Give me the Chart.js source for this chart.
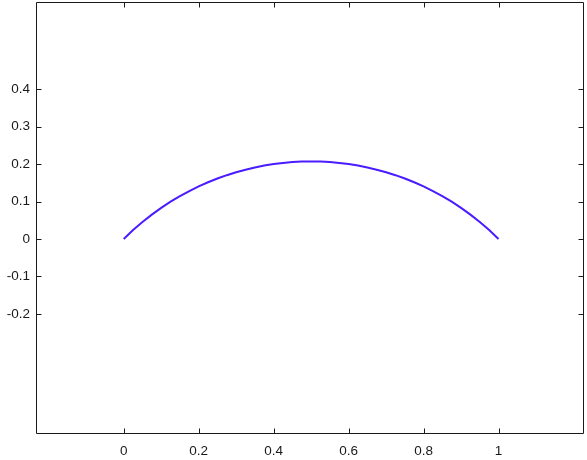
<!DOCTYPE html>
<html>
<head>
<meta charset="utf-8">
<script src="https://cdn.jsdelivr.net/npm/chart.js@4/dist/chart.umd.min.js"></script>
<style>
  html, body { margin: 0; padding: 0; background: #fff; }
  #wrap { width: 587px; height: 460px; position: relative; }
</style>
</head>
<body>
<div id="wrap"><canvas id="c"></canvas></div>
<script>
// Data
const xValues = [0, 0.025, 0.05, 0.075, 0.1, 0.125, 0.15, 0.175, 0.2, 0.225, 0.25, 0.275, 0.3, 0.325, 0.35, 0.375, 0.4, 0.425, 0.45, 0.475, 0.5,
                 0.525, 0.55, 0.575, 0.6, 0.625, 0.65, 0.675, 0.7, 0.725, 0.75, 0.775, 0.8, 0.825, 0.85, 0.875, 0.9, 0.925, 0.95, 0.975, 1];
const yValues = [0, 0.0238, 0.0454, 0.0651, 0.0831, 0.0995, 0.1144, 0.1280, 0.1403, 0.1514, 0.1614, 0.1704, 0.1782, 0.1851, 0.1910, 0.1960, 0.2000, 0.2031, 0.2053, 0.2067, 0.2071,
                 0.2067, 0.2053, 0.2031, 0.2000, 0.1960, 0.1910, 0.1851, 0.1782, 0.1704, 0.1614, 0.1514, 0.1403, 0.1280, 0.1144, 0.0995, 0.0831, 0.0651, 0.0454, 0.0238, 0];
const xTicks = [0, 0.2, 0.4, 0.6, 0.8, 1];
const yTicks = [-0.2, -0.1, 0, 0.1, 0.2, 0.3, 0.4];
const xRange = [-0.234, 1.228];
const yRange = [-0.521, 0.633];

const points = xValues.map((x, i) => ({ x: x, y: yValues[i] }));

const fmt = v => {
  const r = Math.round(v * 10) / 10;
  return String(r);
};

const boxPlugin = {
  id: 'boxTicks',
  afterDatasetsDraw(chart) {
    const { ctx, chartArea: a, scales } = chart;
    ctx.save();
    ctx.strokeStyle = '#1a1a1a';
    ctx.lineWidth = 1;
    const L = Math.round(a.left) + 0.5, R = Math.round(a.right) - 0.5;
    const T = Math.round(a.top) + 0.5, B = Math.round(a.bottom) - 0.5;
    ctx.beginPath();
    ctx.rect(L, T, R - L, B - T);
    const tl = 5;
    xTicks.forEach(v => {
      const px = Math.round(scales.x.getPixelForValue(v)) + 0.5;
      ctx.moveTo(px, B); ctx.lineTo(px, B - tl);
      ctx.moveTo(px, T); ctx.lineTo(px, T + tl);
    });
    yTicks.forEach(v => {
      const py = Math.round(scales.y.getPixelForValue(v)) + 0.5;
      ctx.moveTo(L, py); ctx.lineTo(L + tl, py);
      ctx.moveTo(R, py); ctx.lineTo(R - tl, py);
    });
    ctx.stroke();
    ctx.restore();
  }
};

new Chart(document.getElementById('c'), {
  type: 'scatter',
  data: {
    datasets: [{
      data: points,
      showLine: true,
      borderColor: '#4a1cff',
      borderWidth: 2,
      pointRadius: 0,
      tension: 0,
      fill: false
    }]
  },
  options: {
    responsive: true,
    maintainAspectRatio: false,
    animation: false,
    layout: { padding: { left: 0, right: 3, top: 2, bottom: 0 } },
    plugins: { legend: { display: false }, tooltip: { enabled: false } },
    scales: {
      x: {
        type: 'linear',
        min: xRange[0], max: xRange[1],
        afterBuildTicks: s => { s.ticks = xTicks.map(v => ({ value: v })); },
        afterFit: s => { s.height = 26; s.paddingLeft = 0; s.paddingRight = 0; },
        grid: { display: false, drawTicks: false },
        border: { display: false },
        ticks: { color: '#1a1a1a', font: { family: 'Liberation Sans', size: 13.5 }, padding: 9, maxRotation: 0, callback: v => fmt(v) }
      },
      y: {
        type: 'linear',
        min: yRange[0], max: yRange[1],
        afterBuildTicks: s => { s.ticks = yTicks.map(v => ({ value: v })); },
        afterFit: s => { s.width = 36; s.paddingTop = 0; s.paddingBottom = 0; },
        grid: { display: false, drawTicks: false },
        border: { display: false },
        ticks: { color: '#1a1a1a', font: { family: 'Liberation Sans', size: 13.5 }, padding: 6, callback: v => fmt(v) }
      }
    }
  },
  plugins: [boxPlugin]
});
</script>
</body>
</html>
